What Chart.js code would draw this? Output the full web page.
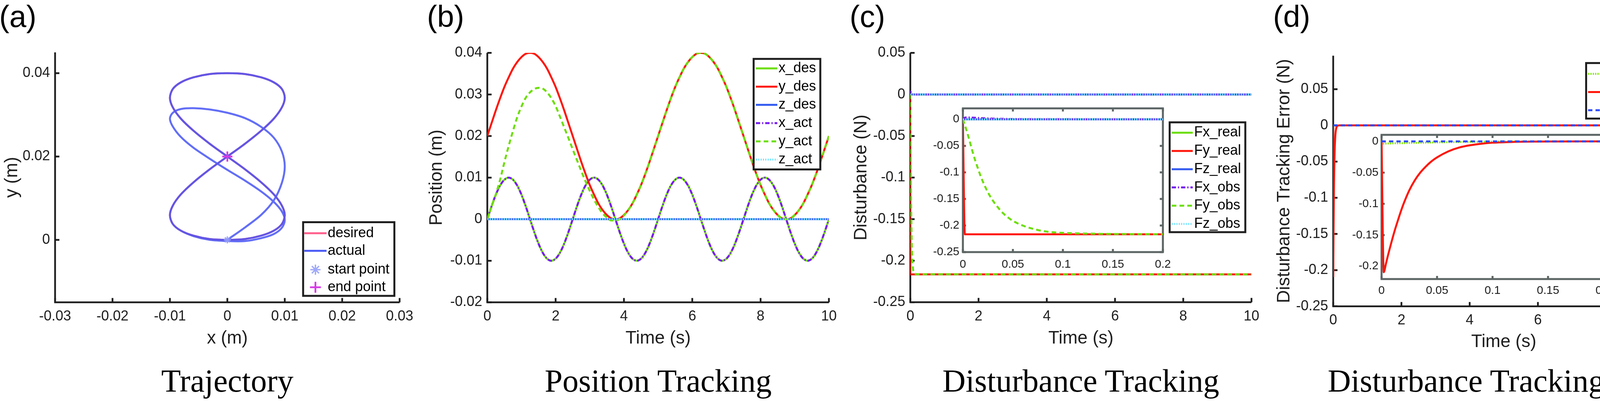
<!DOCTYPE html>
<html>
<head>
<meta charset="utf-8">
<script src="https://cdn.jsdelivr.net/npm/chart.js@4.4.1/dist/chart.umd.min.js"></script>
<style>
html,body{margin:0;padding:0;background:#fff;width:4302px;height:1026px;overflow:hidden;position:relative;}
canvas{position:absolute;left:0;top:0;}
.tag{position:absolute;top:3px;font-family:"Liberation Sans",Arial,sans-serif;font-size:78px;line-height:78px;color:#000;}
.cap{position:absolute;top:934px;width:1200px;text-align:center;white-space:nowrap;font-family:"Liberation Serif","Times New Roman",serif;font-size:82px;line-height:82px;color:#000;}
</style>
</head>
<body>
<div class="tag" style="left:-2px">(a)</div>
<div class="tag" style="left:1093px">(b)</div>
<div class="tag" style="left:2175px">(c)</div>
<div class="tag" style="left:3259px">(d)</div>
<div class="cap" style="left:-18px">Trajectory</div>
<div class="cap" style="left:1085px">Position Tracking</div>
<div class="cap" style="left:2167px">Disturbance Tracking</div>
<div class="cap" style="left:3250px">Disturbance Tracking Error</div>

<canvas id="cA" width="4302" height="1026"></canvas>
<canvas id="cB" width="4302" height="1026"></canvas>
<canvas id="cC" width="4302" height="1026"></canvas>
<canvas id="cD" width="4302" height="1026"></canvas>
<canvas id="cCi" width="4302" height="1026"></canvas>
<canvas id="cDi" width="4302" height="1026"></canvas>

<script>
// ---- data ----

// time samples for the position plots (s)
const tPos = [0,0.125,0.25,0.375,0.5,0.625,0.75,0.875,1,1.125,1.25,1.375,1.5,1.625,1.75,1.875,
  2,2.125,2.25,2.375,2.5,2.625,2.75,2.875,3,3.125,3.25,3.375,3.5,3.625,3.75,3.875,
  4,4.125,4.25,4.375,4.5,4.625,4.75,4.875,5,5.125,5.25,5.375,5.5,5.625,5.75,5.875,
  6,6.125,6.25,6.375,6.5,6.625,6.75,6.875,7,7.125,7.25,7.375,7.5,7.625,7.75,7.875,
  8,8.125,8.25,8.375,8.5,8.625,8.75,8.875,9,9.125,9.25,9.375,9.5,9.625,9.75,9.875,10];

const xDes = [0,0.0031,0.0059,0.0081,0.0095,0.0100,0.0095,0.0081,0.0059,0.0031,0,-0.0031,-0.0059,-0.0081,-0.0095,-0.0100,-0.0095,-0.0081,-0.0059,-0.0031,
  0,0.0031,0.0059,0.0081,0.0095,0.0100,0.0095,0.0081,0.0059,0.0031,0,-0.0031,-0.0059,-0.0081,-0.0095,-0.0100,-0.0095,-0.0081,-0.0059,-0.0031,
  0,0.0031,0.0059,0.0081,0.0095,0.0100,0.0095,0.0081,0.0059,0.0031,0,-0.0031,-0.0059,-0.0081,-0.0095,-0.0100,-0.0095,-0.0081,-0.0059,-0.0031,
  0,0.0031,0.0059,0.0081,0.0095,0.0100,0.0095,0.0081,0.0059,0.0031,0,-0.0031,-0.0059,-0.0081,-0.0095,-0.0100,-0.0095,-0.0081,-0.0059,-0.0031,0];

const yDes = [0.0200,0.0231,0.0262,0.0291,0.0318,0.0341,0.0362,0.0378,0.0390,0.0398,0.0400,
  0.0398,0.0390,0.0378,0.0362,0.0341,0.0318,0.0291,0.0262,0.0231,0.0200,
  0.0169,0.0138,0.0109,0.0082,0.0059,0.0038,0.0022,0.0010,0.0002,0.0000,
  0.0002,0.0010,0.0022,0.0038,0.0059,0.0082,0.0109,0.0138,0.0169,0.0200,
  0.0231,0.0262,0.0291,0.0318,0.0341,0.0362,0.0378,0.0390,0.0398,0.0400,
  0.0398,0.0390,0.0378,0.0362,0.0341,0.0318,0.0291,0.0262,0.0231,0.0200,
  0.0169,0.0138,0.0109,0.0082,0.0059,0.0038,0.0022,0.0010,0.0002,0.0000,
  0.0002,0.0010,0.0022,0.0038,0.0059,0.0082,0.0109,0.0138,0.0169,0.0200];

// x_act lies on top of x_des everywhere in the picture
const xAct = xDes;

const yAct = [0,0.0030,0.0060,0.0095,0.0137,0.0176,0.0212,0.0245,0.0271,0.0292,0.0305,
  0.0313,0.0316,0.0314,0.0305,0.0291,0.0272,0.0247,0.0221,0.0195,0.0168,
  0.0142,0.0116,0.0091,0.0068,0.0047,0.0029,0.0014,0.0004,-0.0003,-0.0003,
  0.0000,0.0009,0.0022,0.0038,0.0059,0.0082,0.0109,0.0138,0.0169,0.0200,
  0.0231,0.0262,0.0291,0.0318,0.0341,0.0362,0.0378,0.0390,0.0398,0.0400,
  0.0398,0.0390,0.0378,0.0362,0.0341,0.0318,0.0291,0.0262,0.0231,0.0200,
  0.0169,0.0138,0.0109,0.0082,0.0059,0.0038,0.0022,0.0010,0.0002,0.0000,
  0.0002,0.0010,0.0022,0.0038,0.0059,0.0082,0.0109,0.0138,0.0169,0.0200];

// signals that stay at zero
const tEnds = [0, 10];
const zeroPair = [0, 0];

// time samples for the disturbance plots (s), dense near the start
const tF = [0,0.002,0.004,0.006,0.008,0.01,0.0125,0.015,0.0175,0.02,0.025,0.03,0.035,0.04,0.045,0.05,
  0.06,0.07,0.08,0.09,0.1,0.12,0.14,0.16,0.18,0.2,10];

const fyReal = [0,-0.2165,-0.2165,-0.2165,-0.2165,-0.2165,-0.2165,-0.2165,-0.2165,-0.2165,-0.2165,-0.2165,-0.2165,-0.2165,
  -0.2165,-0.2165,-0.2165,-0.2165,-0.2165,-0.2165,-0.2165,-0.2165,-0.2165,-0.2165,-0.2165,-0.2165,-0.2165];
const fyObs = [0,-0.0114,-0.0232,-0.0360,-0.0496,-0.0632,-0.0786,-0.0923,-0.1057,-0.1174,-0.1375,-0.1532,-0.1658,-0.1765,
  -0.1846,-0.1912,-0.2002,-0.2061,-0.2104,-0.2127,-0.2138,-0.2150,-0.2157,-0.2160,-0.2162,-0.2163,-0.2165];
const fxObs = [0,0.0030,0.0035,0.0034,0.0032,0.0030,0.0028,0.0026,0.0023,0.0020,0.0016,0.0013,0.0010,0.0008,
  0.0006,0.0005,0.0003,0.0002,0.0002,0.0001,0.0001,0,0,0,0,0,0];

const fxErr = [0,-0.0035,-0.0034,-0.0033,-0.0032,-0.0031,-0.0030,-0.0029,-0.0028,-0.0027,-0.0025,-0.0023,-0.0021,-0.0019,
  -0.0017,-0.0015,-0.0012,-0.0009,-0.0007,-0.0005,-0.0004,-0.0002,-0.0001,0,0,0,0];
const fyErr = [0,-0.2095,-0.1955,-0.1810,-0.1675,-0.1543,-0.1390,-0.1250,-0.1115,-0.0992,-0.0783,-0.0622,-0.0497,-0.0400,
  -0.0319,-0.0256,-0.0161,-0.0098,-0.0061,-0.0037,-0.0021,-0.0008,-0.0003,-0.0001,0,0,0];

// tick values
const trajXTicks = [-0.03,-0.02,-0.01,0,0.01,0.02,0.03];
const trajYTicks = [0,0.02,0.04];
const timeTicks = [0,2,4,6,8,10];
const posYTicks = [-0.02,-0.01,0,0.01,0.02,0.03,0.04];
const distYTicks = [-0.25,-0.2,-0.15,-0.1,-0.05,0,0.05];
const zoomTimeTicks = [0,0.05,0.1,0.15,0.2];
const zoomDistYTicks = [-0.25,-0.2,-0.15,-0.1,-0.05,0];
const zoomErrYTicks = [-0.2,-0.15,-0.1,-0.05,0];

// ---- drawing ----
const W = 4302, H = 1026;
const FONT = '"Liberation Sans", Arial, Helvetica, sans-serif';
const INK = '#1e1e1e';
const GREY = 'rgb(92,100,100)';

const GREEN = 'rgb(108,222,0)';
const RED = 'rgb(255,22,10)';
const BLUE = 'rgb(50,90,240)';
const PURPLE = 'rgb(118,28,238)';
const CYAN = 'rgb(122,228,255)';

const pts = (xs, ys) => xs.map((x, i) => ({ x: x, y: ys[i] }));

function line(label, data, color, dash, order) {
  return { label: label, data: data, borderColor: color, backgroundColor: color, borderWidth: 5,
    borderDash: dash || [], pointRadius: 0, fill: false, cubicInterpolationMode: 'monotone', order: order };
}

// MATLAB-like axes: lines + inward ticks
const matAxes = {
  id: 'matAxes',
  beforeDatasetsDraw(chart, args, o) {
    const ctx = chart.ctx, a = chart.chartArea, x = chart.scales.x, y = chart.scales.y;
    ctx.save();
    if (o.fill) {
      ctx.fillStyle = '#fff';
      ctx.fillRect(a.left, a.top, a.right - a.left, a.bottom - a.top);
    }
    ctx.strokeStyle = o.color;
    ctx.lineWidth = o.width;
    ctx.lineCap = 'butt';
    ctx.beginPath();
    x.ticks.forEach(t => {
      const px = x.getPixelForValue(t.value);
      ctx.moveTo(px, a.bottom); ctx.lineTo(px, a.bottom - o.len);
      if (o.box) { ctx.moveTo(px, a.top); ctx.lineTo(px, a.top + o.len); }
    });
    y.ticks.forEach(t => {
      const py = y.getPixelForValue(t.value);
      ctx.moveTo(a.left, py); ctx.lineTo(a.left + o.len, py);
      if (o.box) { ctx.moveTo(a.right, py); ctx.lineTo(a.right - o.len, py); }
    });
    ctx.stroke();
    ctx.lineJoin = 'miter';
    ctx.beginPath();
    if (o.box) {
      ctx.rect(a.left, a.top, a.right - a.left, a.bottom - a.top);
    } else {
      ctx.moveTo(a.left, a.top); ctx.lineTo(a.left, a.bottom); ctx.lineTo(a.right, a.bottom);
    }
    ctx.stroke();
    ctx.restore();
  }
};

function drawMarker(ctx, style, cx, cy, r) {
  ctx.beginPath();
  ctx.moveTo(cx - r, cy); ctx.lineTo(cx + r, cy);
  ctx.moveTo(cx, cy - r); ctx.lineTo(cx, cy + r);
  if (style === 'star') {
    const d = r * Math.SQRT1_2;
    ctx.moveTo(cx - d, cy - d); ctx.lineTo(cx + d, cy + d);
    ctx.moveTo(cx - d, cy + d); ctx.lineTo(cx + d, cy - d);
  }
  ctx.stroke();
}

// boxed legend at a fixed place
const boxLegend = {
  id: 'boxLegend',
  afterDraw(chart, args, o) {
    if (!o || !o.rows) return;
    const ctx = chart.ctx;
    ctx.save();
    ctx.fillStyle = '#fff';
    ctx.fillRect(o.x0, o.y0, o.x1 - o.x0, o.y1 - o.y0);
    ctx.strokeStyle = INK;
    ctx.lineWidth = 5;
    ctx.strokeRect(o.x0, o.y0, o.x1 - o.x0, o.y1 - o.y0);
    ctx.font = '36px ' + FONT;
    ctx.textBaseline = 'middle';
    ctx.textAlign = 'left';
    chart.data.datasets.forEach((ds, i) => {
      const cy = o.rows[i];
      ctx.save();
      if (ds.showLine === false) {
        ctx.strokeStyle = ds.pointBorderColor;
        ctx.lineWidth = ds.pointBorderWidth;
        drawMarker(ctx, ds.pointStyle, (o.s0 + o.s1) / 2, cy, ds.legendRadius);
      } else {
        ctx.strokeStyle = ds.legendColor || ds.borderColor;
        ctx.lineWidth = ds.borderWidth;
        ctx.setLineDash(ds.borderDash || []);
        ctx.beginPath(); ctx.moveTo(o.s0, cy); ctx.lineTo(o.s1, cy); ctx.stroke();
      }
      ctx.restore();
      ctx.fillStyle = '#000';
      ctx.fillText(ds.label, o.tx, cy);
    });
    ctx.restore();
  }
};

function panel(id, type, box, sc, datasets, ex) {
  return new Chart(document.getElementById(id), {
    type: type,
    data: { datasets: datasets },
    options: {
      responsive: false, animation: false, devicePixelRatio: 1, events: [],
      layout: { padding: { left: box.x0, top: box.T, right: W - box.R, bottom: H - box.hBot } },
      plugins: {
        legend: { display: false }, tooltip: { enabled: false },
        matAxes: ex.axes, boxLegend: ex.legend || {}
      },
      scales: {
        x: {
          type: 'linear', bounds: 'data', min: sc.xMin, max: sc.xMax,
          afterBuildTicks: s => { s.ticks = sc.xTicks.map(v => ({ value: v })); },
          afterFit: s => { s.height = box.hBot - box.B; s.paddingLeft = 0; s.paddingRight = 0; },
          grid: { display: false, drawTicks: false }, border: { display: false },
          ticks: { autoSkip: false, maxRotation: 0, minRotation: 0, padding: ex.xPad, color: INK,
            font: { family: FONT, size: ex.tick }, callback: v => String(v) },
          title: { display: !!sc.xTitle, text: sc.xTitle || '', color: INK, font: { family: FONT, size: 46 }, padding: 0 }
        },
        y: {
          type: 'linear', bounds: 'data', min: sc.yMin, max: sc.yMax,
          afterBuildTicks: s => { s.ticks = sc.yTicks.map(v => ({ value: v })); },
          afterFit: s => { s.width = box.L - box.x0; s.paddingTop = 0; s.paddingBottom = 0; },
          grid: { display: false, drawTicks: false }, border: { display: false },
          ticks: { autoSkip: false, padding: ex.yPad, color: INK,
            font: { family: FONT, size: ex.tick }, callback: v => String(v) },
          title: { display: !!sc.yTitle, text: sc.yTitle || '', color: INK, font: { family: FONT, size: 46 }, padding: 0 }
        }
      }
    },
    plugins: [matAxes, boxLegend]
  });
}

const mainAxes = { color: INK, width: 4.5, len: 11, box: false, fill: false };
const zoomAxes = { color: GREY, width: 5, len: 8, box: true, fill: true };

// (a) trajectory
const trajDs = [
  Object.assign(line('desired', pts(xDes, yDes), 'rgb(255,95,140)', [], 4), { showLine: true, tension: 0.3, cubicInterpolationMode: 'default' }),
  Object.assign(line('actual', pts(xAct, yAct), 'rgba(70,85,245,0.85)', [], 3), { showLine: true, tension: 0.3, cubicInterpolationMode: 'default', legendColor: 'rgb(74,90,245)' }),
  { label: 'start point', data: [{ x: xAct[0], y: yAct[0] }], showLine: false, pointStyle: 'star', pointRadius: 9,
    pointBorderColor: 'rgba(150,160,250,0.9)', pointBackgroundColor: 'rgba(0,0,0,0)', pointBorderWidth: 3.5, legendRadius: 13, order: 2 },
  { label: 'end point', data: [{ x: xAct[xAct.length - 1], y: yAct[yAct.length - 1] }], showLine: false, pointStyle: 'cross', pointRadius: 13,
    pointBorderColor: 'rgb(214,58,230)', pointBackgroundColor: 'rgba(0,0,0,0)', pointBorderWidth: 4.5, legendRadius: 14, order: 1 }
];
panel('cA', 'scatter', { L: 141, R: 1023, T: 134, B: 773.5, x0: 3.4, hBot: 894.3 },
  { xMin: -0.03, xMax: 0.03, yMin: -0.015, yMax: 0.045, xTicks: trajXTicks, yTicks: trajYTicks, xTitle: 'x (m)', yTitle: 'y (m)' },
  trajDs,
  { axes: mainAxes, tick: 36, xPad: 15.4, yPad: 13,
    legend: { x0: 776, y0: 568.5, x1: 1009.6, y1: 757, rows: [596.7, 641.7, 690, 735], s0: 779, s1: 836, tx: 839 } });

// (b) position tracking
panel('cB', 'line', { L: 1247.5, R: 2122, T: 135.3, B: 773.5, x0: 1090.4, hBot: 894.3 },
  { xMin: 0, xMax: 10, yMin: -0.02, yMax: 0.04, xTicks: timeTicks, yTicks: posYTicks, xTitle: 'Time (s)', yTitle: 'Position (m)' },
  [
    line('x_des', pts(tPos, xDes), GREEN, [], 6),
    line('y_des', pts(tPos, yDes), RED, [], 5),
    line('z_des', pts(tEnds, zeroPair), BLUE, [], 4),
    line('x_act', pts(tPos, xAct), PURPLE, [11, 5, 3, 5], 3),
    line('y_act', pts(tPos, yAct), GREEN, [12, 8], 2),
    line('z_act', pts(tEnds, zeroPair), CYAN, [3, 3], 1)
  ],
  { axes: mainAxes, tick: 36, xPad: 15.4, yPad: 13,
    legend: { x0: 1929.3, y0: 150.7, x1: 2100, y1: 433.5, rows: [175, 221.7, 268.3, 315, 361.7, 408.3], s0: 1935, s1: 1990, tx: 1993 } });

// (c) disturbance tracking
function distSet() {
  return [
    line('Fx_real', pts(tEnds, zeroPair), GREEN, [], 6),
    line('Fy_real', pts(tF, fyReal), RED, [], 5),
    line('Fz_real', pts(tEnds, zeroPair), BLUE, [], 4),
    line('Fx_obs', pts(tF, fxObs), PURPLE, [11, 5, 3, 5], 3),
    line('Fy_obs', pts(tF, fyObs), GREEN, [12, 8], 2),
    line('Fz_obs', pts(tEnds, zeroPair), CYAN, [3, 3], 1)
  ];
}
panel('cC', 'line', { L: 2330.4, R: 3203.8, T: 135.3, B: 773.3, x0: 2177.4, hBot: 894.3 },
  { xMin: 0, xMax: 10, yMin: -0.25, yMax: 0.05, xTicks: timeTicks, yTicks: distYTicks, xTitle: 'Time (s)', yTitle: 'Disturbance (N)' },
  distSet(),
  { axes: mainAxes, tick: 36, xPad: 15.4, yPad: 13,
    legend: { x0: 2994.3, y0: 313, x1: 3188, y1: 594, rows: [339.5, 386.2, 432.9, 479.6, 526.3, 573], s0: 2999.5, s1: 3053.5, tx: 3057 } });

// (d) disturbance tracking error
function errSet() {
  return [
    line('Fx_error', pts(tF, fxErr), 'rgb(125,230,0)', [3, 3], 3),
    line('Fy_error', pts(tF, fyErr), RED, [], 2),
    line('Fz_error', pts(tEnds, zeroPair), 'rgb(45,75,245)', [11, 8], 1)
  ];
}
panel('cD', 'line', { L: 3413, R: 4286.4, T: 142.6, B: 783.8, x0: 3260.4, hBot: 903.4 },
  { xMin: 0, xMax: 10, yMin: -0.25, yMax: 0.0962, xTicks: timeTicks, yTicks: distYTicks, xTitle: 'Time (s)', yTitle: 'Disturbance Tracking Error (N)' },
  errSet(),
  { axes: mainAxes, tick: 36, xPad: 14.6, yPad: 13,
    legend: { x0: 4060.5, y0: 161.3, x1: 4270.7, y1: 303.4, rows: [189, 235.5, 282], s0: 4065.5, s1: 4121, tx: 4124 } });

// zoomed insets over the first 0.2 s
panel('cCi', 'line', { L: 2465, R: 2977, T: 277.3, B: 645, x0: 2365, hBot: 725 },
  { xMin: 0, xMax: 0.2, yMin: -0.25, yMax: 0.0205, xTicks: zoomTimeTicks, yTicks: zoomDistYTicks },
  distSet(),
  { axes: zoomAxes, tick: 29.5, xPad: 13.8, yPad: 9 });

panel('cDi', 'line', { L: 3536.8, R: 4105, T: 345, B: 714, x0: 3436.8, hBot: 794 },
  { xMin: 0, xMax: 0.2, yMin: -0.2205, yMax: 0.0105, xTicks: zoomTimeTicks, yTicks: zoomErrYTicks },
  errSet(),
  { axes: zoomAxes, tick: 29.5, xPad: 12.1, yPad: 8 });
</script>
</body>
</html>
